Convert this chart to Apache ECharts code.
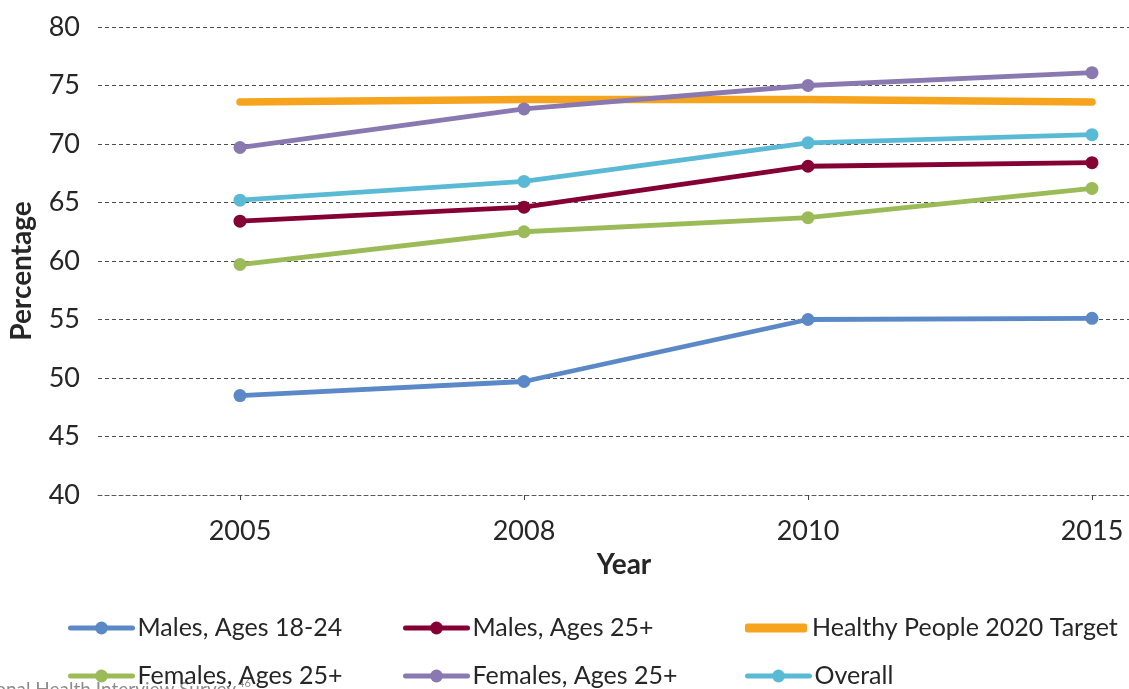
<!DOCTYPE html>
<html>
<head>
<meta charset="utf-8">
<script src="https://cdn.jsdelivr.net/npm/echarts@6/dist/echarts.min.js"></script>
<style>
html,body{margin:0;padding:0;background:#fff;overflow:hidden;width:1129px;height:689px;}
#chart{width:1234px;height:689px;}
</style>
</head>
<body>
<div id="chart"></div>
<script>
// ---- data ----
const years = ['2005', '2008', '2010', '2015'];
const males1824 = [48.5, 49.7, 55.0, 55.1];
const males25 = [63.4, 64.6, 68.1, 68.4];
const target2020 = [73.6, 73.8, 73.8, 73.6];
const femalesGreen = [59.7, 62.5, 63.7, 66.2];
const femalesPurple = [69.7, 73.0, 75.0, 76.1];
const overall = [65.2, 66.8, 70.1, 70.8];
const seriesLabels = ['Males, Ages 18-24', 'Males, Ages 25+', 'Healthy People 2020 Target',
                      'Females, Ages 25+', 'Females, Ages 25+', 'Overall'];
const yTicks = { min: 40, max: 80, step: 5 };
const sourceText = 'Source: National Health Interview Survey';
const sourceNote = '46';

// ---- styling ----
const FONT = 'Lato, "Open Sans", sans-serif';
const colors = ['#5B88C6', '#850034', '#F6A31D', '#9BBB59', '#8A79B0', '#5ABAD5'];
const values = [males1824, males25, target2020, femalesGreen, femalesPurple, overall];

const series = values.map((v, i) => {
  const isTarget = i === 2;
  return {
    name: 's' + i,
    type: 'line',
    data: v,
    color: colors[i],
    symbol: isTarget ? 'none' : 'circle',
    symbolSize: 13,
    showSymbol: !isTarget,
    lineStyle: { width: isTarget ? 7.5 : 4.8, color: colors[i], cap: 'round' },
    itemStyle: { color: colors[i] },
    emphasis: { disabled: true },
    z: isTarget ? 2 : 3
  };
});

// legend placement: 3 columns x 2 rows
const legendPos = [
  [68, 613], [403, 613], [745, 613],
  [68, 661], [403, 661], [745, 661]
];
const legends = seriesLabels.map((lab, si) => {
  const isTarget = si === 2;
  return {
    data: isTarget ? [{ name: 's' + si, icon: 'roundRect' }] : ['s' + si],
    left: legendPos[si][0],
    top: legendPos[si][1],
    padding: 0,
    itemWidth: 62,
    itemHeight: isTarget ? 9 : 16,
    selectedMode: false,
    formatter: () => lab,
    lineStyle: { width: 5 },
    itemStyle: { color: colors[si] },
    textStyle: { fontFamily: FONT, fontSize: 25, color: '#262626', lineHeight: 30 }
  };
});

const chart = echarts.init(document.getElementById('chart'), null, { renderer: 'canvas' });
chart.setOption({
  animation: false,
  backgroundColor: '#ffffff',
  grid: { left: 97, right: 0, top: 27, bottom: 194, containLabel: false },
  xAxis: {
    type: 'category',
    data: years,
    boundaryGap: true,
    name: 'Year',
    nameLocation: 'middle',
    nameGap: 56,
    nameTextStyle: { fontFamily: FONT, fontSize: 28, fontWeight: 'bold', color: '#262626', padding: [0, 84, 0, 0] },
    axisLine: { show: true, lineStyle: { color: '#595959', type: [4, 3], width: 1 } },
    axisTick: { show: true, alignWithLabel: true, length: 5, lineStyle: { color: '#404040' } },
    axisLabel: { fontFamily: FONT, fontSize: 27, color: '#262626', margin: 23 },
    splitLine: { show: false }
  },
  yAxis: {
    type: 'value',
    min: yTicks.min,
    max: yTicks.max,
    interval: yTicks.step,
    name: 'Percentage',
    nameLocation: 'middle',
    nameRotate: 90,
    nameGap: 62,
    nameTextStyle: { fontFamily: FONT, fontSize: 28, fontWeight: 'bold', color: '#262626', padding: [0, 20, 0, 0] },
    axisLine: { show: false },
    axisTick: { show: false },
    axisLabel: { fontFamily: FONT, fontSize: 27, color: '#262626', margin: 18 },
    splitLine: { show: true, lineStyle: { color: '#4d4d4d', type: [4, 3], width: 1 } }
  },
  legend: legends,
  graphic: [
    { type: 'text', x: 236, y: 680, z: -1,
      style: { text: sourceText, font: '19px ' + FONT, fill: '#8c8c8c', textAlign: 'right', textVerticalAlign: 'top' } },
    { type: 'text', x: 238, y: 678, z: -1,
      style: { text: sourceNote, font: '11px ' + FONT, fill: '#8c8c8c', textAlign: 'left', textVerticalAlign: 'top' } }
  ],
  series: series
});
</script>
</body>
</html>
